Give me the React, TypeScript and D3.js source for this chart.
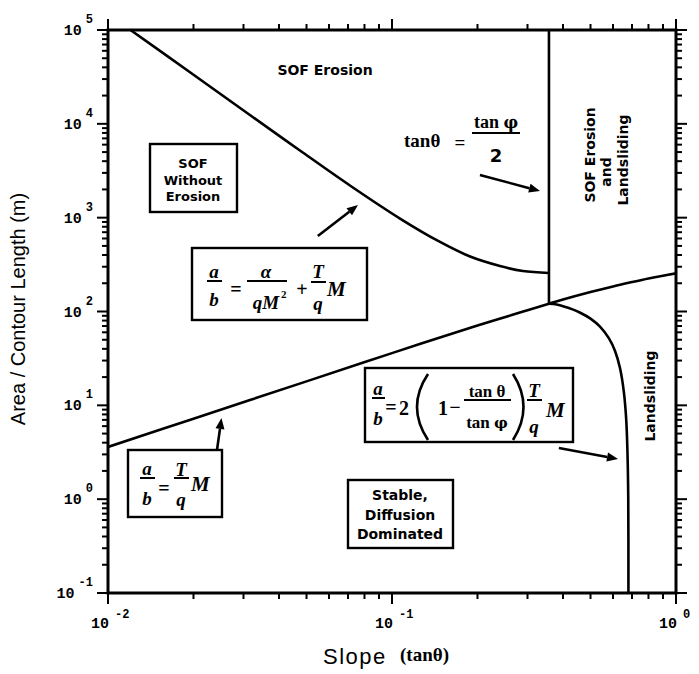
import React from "react";
import * as d3 from "d3";

// Axis domains (log-log)
const slopeDomain: [number, number] = [0.01, 1];
const areaDomain: [number, number] = [0.1, 1e5];
const xTickExponents = [-2, -1, 0];
const yTickExponents = [-1, 0, 1, 2, 3, 4, 5];

// a/b = (T/q) M : lower threshold (slope, area per contour length)
const diffusionBoundary: [number, number][] = [
  [0.01, 3.6], [0.02, 7.2], [0.05, 18], [0.1, 36], [0.2, 71], [0.3, 103],
  [0.357, 121], [0.4, 134], [0.5, 161], [0.6, 185], [0.7, 206], [0.8, 225],
  [0.9, 241], [1.0, 255],
];

// a/b = alpha/(q M^2) + (T/q) M : erosion threshold
const erosionBoundary: [number, number][] = [
  [0.012, 100000], [0.0195, 35240], [0.0316, 12420], [0.0474, 5200],
  [0.0711, 2203], [0.1067, 979], [0.1476, 551], [0.1884, 385], [0.24, 305],
  [0.289, 270], [0.357, 257],
];

// a/b = 2(1 - tan(theta)/tan(phi)) (T/q) M : landsliding threshold
const landslideBoundary: [number, number][] = [
  [0.357, 121], [0.38, 119], [0.4, 114], [0.43, 106], [0.46, 97], [0.5, 84],
  [0.54, 69], [0.58, 52], [0.61, 38], [0.635, 25], [0.655, 14], [0.668, 7],
  [0.675, 3], [0.679, 1], [0.68, 0.1],
];

// tan(theta) = tan(phi)/2 : critical slope line
const criticalSlope = 0.357;
const criticalSlopeRange: [number, number] = [121, 100000];

const W = 699;
const H = 674;
const plot = { left: 108, right: 676, top: 30, bottom: 593 };

const SANS = "'DejaVu Sans', 'Liberation Sans', sans-serif";
const SERIF = "'Liberation Serif', 'Times New Roman', serif";
const GREEK = "'DejaVu Serif', serif";
const MONO = "'Liberation Mono', 'DejaVu Sans Mono', monospace";
const HELV = "'Liberation Sans', Arial, sans-serif";

function Arrow({ x1, y1, x2, y2 }: { x1: number; y1: number; x2: number; y2: number }) {
  const ang = Math.atan2(y2 - y1, x2 - x1);
  const len = 11;
  const half = 4.5;
  const bx = x2 - len * Math.cos(ang);
  const by = y2 - len * Math.sin(ang);
  const px = -Math.sin(ang) * half;
  const py = Math.cos(ang) * half;
  return (
    <g>
      <line x1={x1} y1={y1} x2={bx} y2={by} stroke="#000" strokeWidth={2.6} />
      <path d={`M${x2},${y2} L${bx + px},${by + py} L${bx - px},${by - py} Z`} fill="#000" />
    </g>
  );
}

function Frac({ cx, top, bottom, barY, x1, x2, num, den, size = 19, italic = true }: any) {
  const style = italic ? "italic" : "normal";
  return (
    <g fontFamily={SERIF} fontWeight="bold" fontStyle={style} textAnchor="middle" fill="#000">
      <text x={cx} y={top} fontSize={size}>{num}</text>
      <line x1={x1} x2={x2} y1={barY} y2={barY} stroke="#000" strokeWidth={2} />
      <text x={cx} y={bottom} fontSize={size}>{den}</text>
    </g>
  );
}

// "tan φ" with the Greek letter set in a face that carries it in bold
const TanPhi = ({ size }: { size: number }) => (
  <>
    tan <tspan fontFamily={GREEK} fontSize={size * 0.9}>φ</tspan>
  </>
);

export default function App() {
  const x = d3.scaleLog().domain(slopeDomain).range([plot.left, plot.right]);
  const y = d3.scaleLog().domain(areaDomain).range([plot.bottom, plot.top]);

  const line = d3
    .line<[number, number]>()
    .x((d) => x(d[0]))
    .y((d) => y(d[1]))
    .curve(d3.curveCatmullRom.alpha(0.5));

  const xTicks = x.ticks();
  const yTicks = y.ticks();
  const isMajor = (v: number) => Math.abs(Math.log10(v) - Math.round(Math.log10(v))) < 1e-9;

  const box = (bx: number, by: number, bw: number, bh: number) => (
    <rect x={bx} y={by} width={bw} height={bh} fill="#fff" stroke="#000" strokeWidth={2.4} />
  );

  return (
    <svg
      width={W}
      height={H}
      viewBox={`0 0 ${W} ${H}`}
      style={{ position: "absolute", left: 0, top: 0, background: "#fff" }}
    >
      <defs>
        <clipPath id="plot-clip">
          <rect x={plot.left} y={plot.top} width={plot.right - plot.left} height={plot.bottom - plot.top} />
        </clipPath>
      </defs>
      <rect x={0} y={0} width={W} height={H} fill="#fff" />

      {/* ticks on all four sides, pointing outward */}
      <g stroke="#000" strokeWidth={2}>
        {xTicks.map((t, i) => {
          const L = isMajor(t) ? 11 : 6;
          return (
            <g key={"xt" + i}>
              <line x1={x(t)} x2={x(t)} y1={plot.bottom} y2={plot.bottom + L} />
              <line x1={x(t)} x2={x(t)} y1={plot.top} y2={plot.top - L} />
            </g>
          );
        })}
        {yTicks.map((t, i) => {
          const L = isMajor(t) ? 11 : 6;
          return (
            <g key={"yt" + i}>
              <line x1={plot.left} x2={plot.left - L} y1={y(t)} y2={y(t)} />
              <line x1={plot.right} x2={plot.right + L} y1={y(t)} y2={y(t)} />
            </g>
          );
        })}
      </g>

      {/* tick labels */}
      <g fontFamily={MONO} fontWeight="bold" fill="#000">
        {yTickExponents.map((e) => (
          <text key={"yl" + e} x={93} y={y(Math.pow(10, e)) + 5} fontSize={15} textAnchor="end">
            10
            <tspan dx={4} dy={-12} fontSize={12}>{String(e)}</tspan>
          </text>
        ))}
        {xTickExponents.map((e) => (
          <text key={"xl" + e} x={x(Math.pow(10, e)) - 17} y={628} fontSize={15}>
            10
            <tspan dx={6} dy={-10} fontSize={12}>{String(e)}</tspan>
          </text>
        ))}
      </g>

      {/* boundaries */}
      <g clipPath="url(#plot-clip)" fill="none" stroke="#000" strokeWidth={2.6} strokeLinejoin="round">
        <path d={line(diffusionBoundary) || ""} />
        <path d={line(erosionBoundary) || ""} />
        <path d={line(landslideBoundary) || ""} />
        <line
          x1={x(criticalSlope)}
          x2={x(criticalSlope)}
          y1={y(criticalSlopeRange[0])}
          y2={y(criticalSlopeRange[1])}
        />
      </g>

      {/* frame */}
      <rect
        x={plot.left}
        y={plot.top}
        width={plot.right - plot.left}
        height={plot.bottom - plot.top}
        fill="none"
        stroke="#000"
        strokeWidth={3}
      />

      {/* region labels */}
      <g fontFamily={SANS} fontWeight="bold" fill="#000" fontSize={14}>
        <text x={325} y={75} textAnchor="middle">SOF Erosion</text>
        <text transform="translate(595,155) rotate(-90)" textAnchor="middle">SOF Erosion</text>
        <text transform="translate(611,172) rotate(-90)" textAnchor="middle">and</text>
        <text transform="translate(628,160) rotate(-90)" textAnchor="middle">Landsliding</text>
        <text transform="translate(655,396) rotate(-90)" textAnchor="middle">Landsliding</text>
      </g>

      {/* SOF without erosion */}
      {box(150, 144, 87, 68)}
      <g fontFamily={SANS} fontWeight="bold" fontSize={13} textAnchor="middle" fill="#000">
        <text x={193} y={168}>SOF</text>
        <text x={193} y={185}>Without</text>
        <text x={193} y={201}>Erosion</text>
      </g>

      {/* stable, diffusion dominated */}
      {box(348, 480, 105, 68)}
      <g fontFamily={SANS} fontWeight="bold" fontSize={14} textAnchor="middle" fill="#000">
        <text x={400} y={500}>Stable,</text>
        <text x={400} y={520}>Diffusion</text>
        <text x={400} y={539}>Dominated</text>
      </g>

      {/* tan(theta) = tan(phi)/2 */}
      <g fontFamily={SERIF} fontWeight="bold" fill="#000">
        <text x={404} y={147} fontSize={19}>tanθ</text>
        <text x={460} y={149} fontSize={19} textAnchor="middle">=</text>
        <text x={496} y={128} fontSize={18} textAnchor="middle"><TanPhi size={18} /></text>
        <line x1={472} x2={520} y1={133} y2={133} stroke="#000" strokeWidth={2} />
        <text x={496} y={162} fontSize={18} fontFamily={SANS} textAnchor="middle">2</text>
      </g>
      <Arrow x1={x(0.204)} y1={y(2850)} x2={x(0.332)} y2={y(1923)} />

      {/* erosion threshold formula */}
      {box(192, 248, 175, 72)}
      <g fill="#000">
        <Frac cx={214} top={278} bottom={306} barY={281} x1={207} x2={222} num="a" den="b" />
        <text x={236} y={296} fontFamily={SERIF} fontWeight="bold" fontSize={20} textAnchor="middle">=</text>
        <Frac cx={266} top={278} bottom={309} barY={281} x1={247} x2={287} num="α" den="qM" />
        <text x={281} y={298} fontFamily={SERIF} fontWeight="bold" fontSize={11}>2</text>
        <text x={302} y={296} fontFamily={SERIF} fontWeight="bold" fontSize={20} textAnchor="middle">+</text>
        <Frac cx={318} top={278} bottom={310} barY={282} x1={311} x2={326} num="T" den="q" />
        <text x={327} y={296} fontFamily={SERIF} fontWeight="bold" fontStyle="italic" fontSize={21}>M</text>
      </g>
      <Arrow x1={x(0.0548)} y1={y(638)} x2={x(0.0759)} y2={y(1365)} />

      {/* diffusion threshold formula */}
      {box(128, 450, 94, 67)}
      <g fill="#000">
        <Frac cx={147} top={475} bottom={505} barY={478} x1={140} x2={155} num="a" den="b" />
        <text x={164} y={495} fontFamily={SERIF} fontWeight="bold" fontSize={20} textAnchor="middle">=</text>
        <Frac cx={181} top={476} bottom={506} barY={478} x1={174} x2={189} num="T" den="q" />
        <text x={191} y={491} fontFamily={SERIF} fontWeight="bold" fontStyle="italic" fontSize={21}>M</text>
      </g>
      <Arrow x1={x(0.0242)} y1={y(3.34)} x2={x(0.0251)} y2={y(7.33)} />

      {/* landsliding threshold formula */}
      {box(365, 368, 208, 74)}
      <g fill="#000">
        <Frac cx={378} top={395} bottom={425} barY={398} x1={372} x2={385} num="a" den="b" />
        <text x={391} y={414} fontFamily={SERIF} fontWeight="bold" fontSize={20} textAnchor="middle">=</text>
        <text x={404} y={415} fontFamily={SERIF} fontWeight="bold" fontSize={20} textAnchor="middle">2</text>
        <path d="M428,374 Q406,407 428,440" fill="none" stroke="#000" strokeWidth={2.6} />
        <text x={443} y={415} fontFamily={SERIF} fontWeight="bold" fontSize={20} textAnchor="middle">1</text>
        <text x={455} y={414} fontFamily={SERIF} fontWeight="bold" fontSize={20} textAnchor="middle">−</text>
        <Frac cx={487} top={397} bottom={428} barY={400} x1={464} x2={511} num="tan θ" den={<TanPhi size={17} />} size={17} italic={false} />
        <path d="M513,374 Q534,407 513,440" fill="none" stroke="#000" strokeWidth={2.6} />
        <Frac cx={534} top={397} bottom={433} barY={400} x1={527} x2={542} num="T" den="q" />
        <text x={546} y={417} fontFamily={SERIF} fontWeight="bold" fontStyle="italic" fontSize={21}>M</text>
      </g>
      <Arrow x1={x(0.387)} y1={y(3.51)} x2={x(0.625)} y2={y(2.68)} />

      {/* axis titles */}
      <text
        transform="translate(25,309) rotate(-90)"
        textAnchor="middle"
        fontFamily={HELV}
        fontSize={20}
        fill="#000"
      >
        Area / Contour Length (m)
      </text>
      <text x={323} y={664} fontFamily={HELV} fontSize={22} letterSpacing={1.5} fill="#000">
        Slope
      </text>
      <text x={400} y={661} fontFamily={SERIF} fontWeight="bold" fontSize={19} fill="#000">
        (tanθ)
      </text>
    </svg>
  );
}
